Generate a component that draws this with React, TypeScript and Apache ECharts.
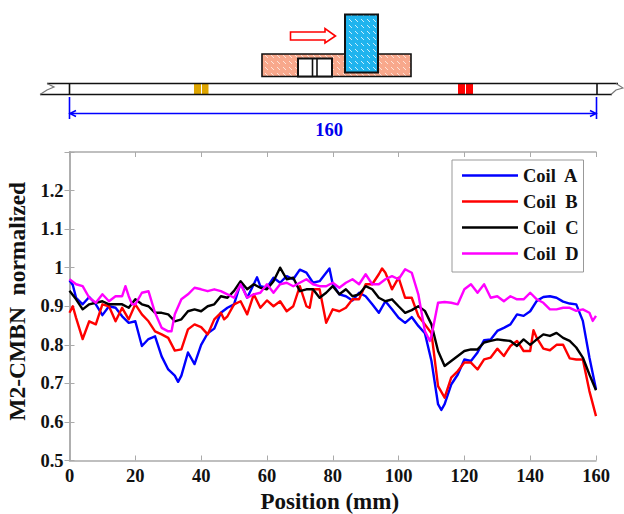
import React, { useEffect, useRef } from "react";
import * as echarts from "echarts";

const FONT = "'Liberation Serif','Times New Roman',serif";
const yTicksHidden = [1.3];
const seriesNames = ["Coil  A", "Coil  B", "Coil  C", "Coil  D"];
const seriesColors = ["#0000ff", "#ff0000", "#000000", "#ff00ff"];

const coilA = [[0,.967],[1,.955],[2,.922],[4,.905],[6,.924],[8,.905],[10,.877],[12,.90],[14,.896],[16,.874],[18,.857],[20,.861],[22,.797],[24,.815],[26,.822],[28,.77],[30,.736],[32,.72],[33,.704],[34,.72],[36,.78],[38,.75],[40,.80],[42,.83],[44,.842],[46,.883],[48,.896],[50,.905],[52,.96],[54,.922],[56,.957],[57,.975],[58,.952],[60,.948],[62,.974],[64,.961],[66,.978],[68,.970],[70,.995],[72,.987],[74,.961],[76,.965],[78,.987],[79,.998],[80,.957],[82,.931],[84,.926],[86,.915],[88,.935],[90,.926],[92,.905],[94,.883],[96,.913],[98,.892],[100,.870],[102,.857],[104,.872],[106,.849],[108,.83],[110,.758],[112,.646],[113,.631],[114,.646],[116,.697],[118,.723],[120,.762],[122,.758],[124,.78],[126,.812],[128,.814],[130,.836],[132,.844],[134,.853],[136,.879],[138,.875],[140,.887],[142,.914],[144,.924],[146,.926],[148,.922],[150,.912],[152,.907],[154,.905],[156,.862],[158,.767],[160,.685]];
const coilB = [[0,.883],[1,.90],[2,.87],[4,.815],[6,.861],[8,.853],[10,.905],[12,.90],[14,.861],[16,.896],[18,.866],[20,.905],[22,.879],[24,.861],[26,.835],[28,.827],[30,.818],[32,.785],[34,.788],[36,.84],[38,.853],[40,.846],[42,.827],[44,.866],[46,.883],[47,.866],[48,.874],[50,.905],[52,.913],[54,.879],[56,.931],[58,.896],[60,.915],[62,.90],[64,.913],[66,.887],[68,.90],[70,.952],[72,.90],[73,.896],[74,.944],[76,.944],[78,.857],[80,.892],[82,.887],[84,.896],[86,.918],[88,.918],[90,.957],[92,.957],[94,.983],[95,.998],[96,.987],[98,.944],[100,.974],[102,.922],[104,.922],[106,.875],[108,.853],[110,.83],[112,.693],[114,.663],[116,.715],[118,.732],[120,.754],[122,.754],[124,.736],[126,.762],[128,.767],[130,.79],[132,.771],[134,.797],[136,.81],[138,.784],[140,.784],[141,.838],[142,.818],[144,.79],[146,.786],[148,.80],[150,.80],[152,.765],[154,.762],[156,.762],[158,.68],[160,.615]];
const coilC = [[0,.94],[2,.918],[4,.892],[6,.905],[8,.909],[10,.913],[12,.905],[14,.905],[16,.905],[18,.896],[20,.918],[22,.905],[24,.90],[26,.883],[28,.883],[30,.879],[32,.861],[34,.866],[36,.887],[38,.892],[40,.887],[42,.90],[44,.905],[46,.926],[48,.922],[50,.94],[52,.965],[54,.944],[56,.957],[58,.948],[60,.944],[62,.965],[64,1.0],[66,.970],[68,.974],[70,.939],[72,.944],[74,.944],[76,.922],[78,.935],[80,.952],[82,.931],[84,.944],[86,.926],[88,.931],[90,.952],[92,.944],[94,.922],[96,.913],[98,.918],[100,.90],[102,.883],[104,.89],[106,.90],[108,.888],[110,.853],[112,.784],[114,.745],[116,.758],[118,.771],[120,.784],[122,.788],[124,.788],[126,.806],[128,.81],[130,.814],[132,.812],[134,.81],[136,.797],[138,.814],[140,.80],[142,.814],[144,.827],[146,.823],[148,.831],[150,.818],[152,.81],[154,.793],[156,.767],[158,.723],[160,.682]];
const coilD = [[0,.97],[2,.957],[4,.952],[6,.922],[8,.909],[10,.931],[12,.913],[14,.926],[16,.926],[17,.952],[18,.926],[19,.905],[20,.905],[22,.935],[24,.939],[26,.883],[28,.844],[30,.835],[31,.835],[32,.879],[34,.918],[36,.931],[38,.948],[40,.944],[42,.939],[44,.944],[46,.939],[48,.931],[50,.922],[52,.957],[54,.922],[56,.931],[58,.935],[60,.957],[62,.935],[64,.957],[66,.961],[68,.952],[70,.961],[72,.970],[74,.957],[76,.952],[78,.952],[80,.961],[82,.948],[84,.961],[86,.970],[88,.957],[90,.983],[92,.957],[94,.957],[96,.970],[98,.978],[100,.970],[102,.996],[104,.987],[106,.931],[108,.836],[109.5,.81],[110,.823],[112,.909],[114,.911],[116,.909],[118,.905],[120,.944],[122,.957],[124,.935],[126,.957],[128,.922],[130,.926],[132,.913],[134,.926],[136,.918],[138,.918],[140,.935],[142,.918],[144,.909],[146,.892],[148,.892],[150,.896],[152,.896],[154,.888],[156,.892],[158,.883],[159,.862],[160,.875]];
const seriesData = [coilA, coilB, coilC, coilD];

function hatch(bg: string, fg: string) {
  const c = document.createElement("canvas");
  c.width = 6;
  c.height = 6;
  const g = c.getContext("2d")!;
  g.fillStyle = bg;
  g.fillRect(0, 0, 6, 6);
  g.strokeStyle = fg;
  g.lineWidth = 1;
  g.beginPath();
  g.moveTo(1, 1);
  g.lineTo(4, 4);
  g.stroke();
  return c;
}

export default function App() {
  const ref = useRef<HTMLDivElement>(null);
  useEffect(() => {
    document.body.style.margin = "0";
    const chart = echarts.init(ref.current!, null, { renderer: "svg" });
    const k = { stroke: "#111", lineWidth: 1.6, fill: "none" };
    const kw = { stroke: "#111", lineWidth: 2, fill: "#fff" };
    const salmon = { image: hatch("#f8a88c", "#fde3d8"), repeat: "repeat" };
    const cyan = { image: hatch("#1fb4ee", "#c9eefc"), repeat: "repeat" };
    const blue = { stroke: "#0000ff", lineWidth: 1.6, fill: "none" };
    const line = (x1: number, y1: number, x2: number, y2: number, style: any) => ({
      type: "line",
      shape: { x1, y1, x2, y2 },
      style,
    });
    const poly = (points: number[][], style: any) => ({ type: "polyline", shape: { points }, style });
    chart.setOption({
      animation: false,
      backgroundColor: "#fff",
      grid: { left: 69.5, right: 28, top: 152, bottom: 53.5, containLabel: false, outerBoundsMode: "none" },
      legend: {
        orient: "vertical",
        left: 452,
        top: 160,
        width: 135,
        padding: [6, 5, 9, 10],
        icon: "rect",
        itemWidth: 56,
        itemHeight: 2.5,
        itemGap: 7,
        borderColor: "#999",
        borderWidth: 1,
        backgroundColor: "#fff",
        textStyle: { fontFamily: FONT, fontWeight: "bold", fontSize: 18.5, color: "#111" },
      },
      xAxis: [
        {
          type: "value",
          min: 0,
          max: 160,
          interval: 20,
          name: "Position (mm)",
          nameLocation: "middle",
          nameGap: 29,
          nameTextStyle: { fontFamily: FONT, fontWeight: "bold", fontSize: 23, color: "#111", padding: [0, 6, 0, 0] },
          axisLine: { lineStyle: { color: "#aaa", width: 1.5 } },
          axisTick: { inside: true, length: 5, lineStyle: { color: "#aaa" } },
          axisLabel: { fontFamily: FONT, fontWeight: "bold", fontSize: 18.5, color: "#111", margin: 6 },
          splitLine: { show: false },
        },
        {
          type: "value",
          position: "top",
          min: 0,
          max: 160,
          interval: 20,
          axisLine: { lineStyle: { color: "#aaa", width: 1.5 } },
          axisTick: { inside: true, length: 5, lineStyle: { color: "#aaa" } },
          axisLabel: { show: false },
          splitLine: { show: false },
        },
      ],
      yAxis: [
        {
          type: "value",
          min: 0.5,
          max: 1.3,
          interval: 0.1,
          name: "M2-CMBN  normalized",
          nameLocation: "middle",
          nameGap: 41,
          nameTextStyle: { fontFamily: FONT, fontWeight: "bold", fontSize: 23.5, color: "#111", padding: [0, 0, 0, 10] },
          axisLine: { show: true, lineStyle: { color: "#aaa", width: 1.5 } },
          axisTick: { show: true, inside: true, length: 5, lineStyle: { color: "#aaa" } },
          axisLabel: {
            fontFamily: FONT,
            fontWeight: "bold",
            fontSize: 18.5,
            color: "#111",
            margin: 6,
            formatter: (v: number) => {
              const r = Math.round(v * 10) / 10;
              return yTicksHidden.includes(r) ? "" : String(r);
            },
          },
          splitLine: { show: false },
        },
        {
          type: "value",
          position: "right",
          min: 0.5,
          max: 1.3,
          interval: 0.1,
          axisLine: { show: true, lineStyle: { color: "#aaa", width: 1.5 } },
          axisTick: { show: true, inside: true, length: 5, lineStyle: { color: "#aaa" } },
          axisLabel: { show: false },
          splitLine: { show: false },
        },
      ],
      series: seriesNames.map((name, i) => ({
        name,
        type: "line",
        data: seriesData[i],
        symbol: "none",
        lineStyle: { color: seriesColors[i], width: 2.4, join: "round" },
        itemStyle: { color: seriesColors[i] },
      })),
      graphic: [
        { type: "rect", shape: { x: 262, y: 54, width: 149, height: 22.5 }, style: { fill: salmon, stroke: "#111", lineWidth: 1.6 } },
        { type: "rect", shape: { x: 298, y: 58.5, width: 34, height: 18 }, style: kw },
        line(312.5, 58.5, 312.5, 76.5, k),
        line(317, 58.5, 317, 76.5, k),
        { type: "rect", shape: { x: 345, y: 14.5, width: 33, height: 58 }, style: { fill: cyan, stroke: "#111", lineWidth: 2 } },
        { type: "polygon", shape: { points: [[290.5, 32], [325, 32], [325, 28.5], [335.5, 36], [325, 43], [325, 40], [290.5, 40]] }, style: { fill: "#fff", stroke: "#ff0000", lineWidth: 1.6 } },
        { type: "rect", shape: { x: 194, y: 84, width: 14.5, height: 10.5 }, style: { fill: "#dea500", stroke: "none" } },
        { type: "rect", shape: { x: 458, y: 84, width: 15, height: 10.5 }, style: { fill: "#ff0000", stroke: "none" } },
        line(201.5, 84, 201.5, 94.5, { stroke: "#fff", lineWidth: 1 }),
        line(465.5, 84, 465.5, 94.5, { stroke: "#fff", lineWidth: 1 }),
        line(47, 83.5, 618, 83.5, k),
        line(40, 94.5, 612, 94.5, k),
        poly([[47, 83.5], [54, 87], [47, 90], [40, 94.5]], { stroke: "#777", lineWidth: 1.2, fill: "none" }),
        poly([[616, 83.5], [623, 88], [616, 90], [611, 94.5]], { stroke: "#777", lineWidth: 1.2, fill: "none" }),
        line(69.5, 83.5, 69.5, 94.5, k),
        line(597, 83.5, 597, 94.5, k),
        line(69.5, 97, 69.5, 119, blue),
        line(596.5, 97, 596.5, 119, blue),
        line(70, 113.5, 596, 113.5, blue),
        poly([[76, 110.5], [70, 113.5], [76, 116.5]], blue),
        poly([[590, 110.5], [596, 113.5], [590, 116.5]], blue),
        {
          type: "text",
          x: 329,
          y: 130,
          style: { text: "160", fill: "#0000ee", font: `bold 18.5px ${FONT}`, textAlign: "center", textVerticalAlign: "middle" },
        },
      ],
    });
    return () => chart.dispose();
  }, []);
  return <div ref={ref} style={{ position: "absolute", left: 0, top: 0, width: 624, height: 514 }} />;
}
